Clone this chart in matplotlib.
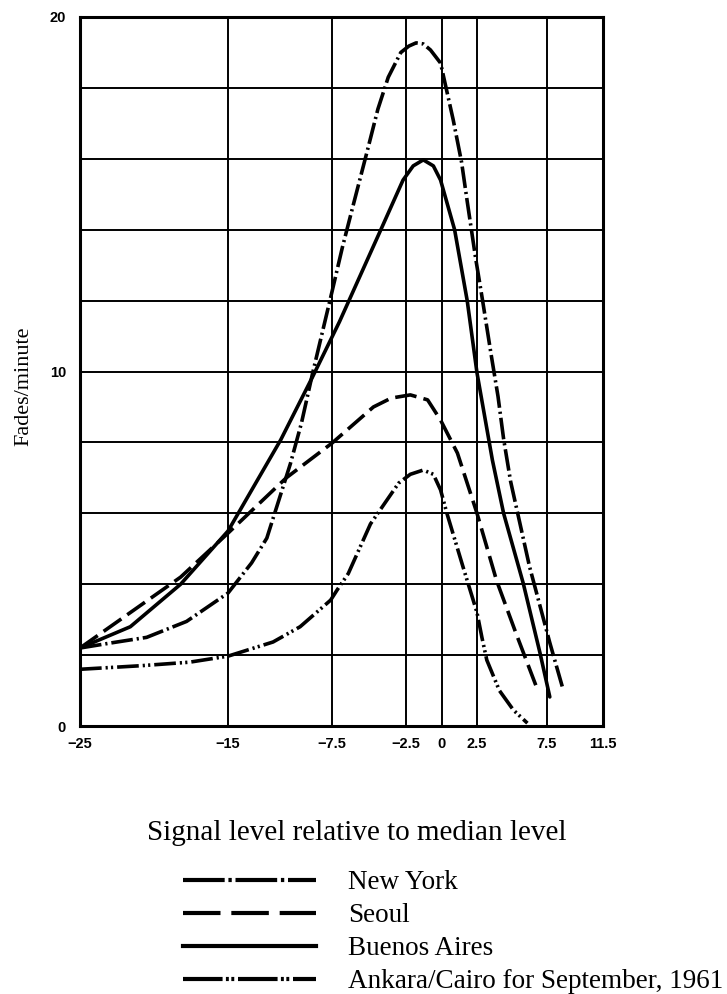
import numpy as np
import matplotlib
matplotlib.use("Agg")
import matplotlib.pyplot as plt
from matplotlib.lines import Line2D

# ---------------- data ----------------
ny_x = [-25, -22.8, -20.5, -17.8, -15, -13.3, -12.2, -10.5, -9.7, -8.9, -7.5, -6.8, -6.0,
        -5.1, -4.4, -3.7, -2.85, -2.3, -1.8, -1.3, -0.8, -0.1, 0.8, 1.4, 1.8, 2.4, 2.9, 3.5,
        4.0, 4.4, 4.9, 6.25, 7.7, 8.6]
ny_y = [2.2, 2.35, 2.5, 2.95, 3.75, 4.6, 5.3, 7.4, 8.55, 9.95, 12.25, 13.5, 14.8,
        16.25, 17.4, 18.3, 19.0, 19.18, 19.27, 19.24, 19.07, 18.7, 17.1, 15.9, 14.8, 13.2, 12.0,
        10.5, 9.3, 8.1, 6.9, 4.5, 2.35, 1.1]

seoul_x = [-25, -21.6, -18.2, -15, -10.8, -7.5, -4.7, -3.5, -2.2, -1.0, -0.1, 1.1, 2.5,
           3.9, 5.3, 6.7]
seoul_y = [2.2, 3.2, 4.2, 5.44, 7.0, 7.98, 9.0, 9.25, 9.34, 9.2, 8.63, 7.7, 6.0,
           4.1, 2.6, 1.15]

ba_x = [-25, -21.6, -18.2, -15, -11.2, -8.9, -7.0, -4.2, -2.7, -2.0, -1.3, -0.6, -0.1,
        0.9, 1.8, 2.5, 3.6, 4.4, 5.8, 7.0, 7.7]
ba_y = [2.2, 2.8, 4.0, 5.5, 8.07, 9.85, 11.4, 14.0, 15.4, 15.8, 15.97, 15.8, 15.4,
        14.0, 12.0, 9.96, 7.5, 6.0, 4.03, 2.06, 0.82]

ank_x = [-25, -20.9, -17.6, -15, -11.75, -9.8, -7.6, -7.15, -6.4, -4.9, -3.0, -2.2, -1.3,
         -0.6, -0.1, 0.35, 1.5, 2.5, 2.85, 3.2, 4.1, 5.1, 6.1]
ank_y = [1.6, 1.7, 1.8, 1.97, 2.37, 2.8, 3.55, 3.84, 4.3, 5.7, 6.85, 7.1, 7.22,
         7.1, 6.66, 6.0, 4.49, 3.2, 2.5, 1.86, 1.0, 0.45, 0.08]

series_labels = ["New York", "Seoul", "Buenos Aires", "Ankara/Cairo for September, 1961"]

x_ticks = [-25, -15, -7.5, -2.5, 0, 2.5, 7.5, 11.5]
x_tick_labels = ["\u221225", "\u221215", "\u22127.5", "\u22122.5", "0", "2.5", "7.5", "11.5"]
y_ticks = [0, 2, 4, 6, 8, 10, 12, 14, 16, 18, 20]
y_tick_labels = ["0", "", "", "", "", "10", "", "", "", "", "20"]

x_label = "Signal level relative to median level"
y_label = "Fades/minute"

# ---------------- layout / style ----------------
W, H = 727, 994
# hand-drawn grid: pixel position of each x grid line in the original drawing
grid_px = np.array([80, 228, 332, 406, 442, 477, 547, 603], dtype=float)
tick_vals = np.array(x_ticks, dtype=float)


def _fwd(x):
    x = np.asarray(x, dtype=float)
    y = np.interp(x, tick_vals, grid_px)
    s0 = (grid_px[1] - grid_px[0]) / (tick_vals[1] - tick_vals[0])
    s1 = (grid_px[-1] - grid_px[-2]) / (tick_vals[-1] - tick_vals[-2])
    y = np.where(x < tick_vals[0], grid_px[0] + (x - tick_vals[0]) * s0, y)
    y = np.where(x > tick_vals[-1], grid_px[-1] + (x - tick_vals[-1]) * s1, y)
    return y


def _inv(p):
    p = np.asarray(p, dtype=float)
    x = np.interp(p, grid_px, tick_vals)
    s0 = (tick_vals[1] - tick_vals[0]) / (grid_px[1] - grid_px[0])
    s1 = (tick_vals[-1] - tick_vals[-2]) / (grid_px[-1] - grid_px[-2])
    x = np.where(p < grid_px[0], tick_vals[0] + (p - grid_px[0]) * s0, x)
    x = np.where(p > grid_px[-1], tick_vals[-1] + (p - grid_px[-1]) * s1, x)
    return x


fig = plt.figure(figsize=(W / 100, H / 100), dpi=100)
ax = fig.add_axes([80 / W, 1 - 726 / H, (603 - 80) / W, (726 - 17) / H])
ax.set_xscale("function", functions=(_fwd, _inv))
ax.set_xlim(-25, 11.5)
ax.set_ylim(0, 20)

ax.set_xticks(x_ticks)
ax.set_xticklabels(x_tick_labels)
ax.set_yticks(y_ticks)
ax.set_yticklabels(y_tick_labels)
ax.minorticks_off()
tick_family = ["Liberation Sans Narrow", "Liberation Sans", "DejaVu Sans"]
for lab in ax.get_xticklabels() + ax.get_yticklabels():
    lab.set_fontfamily(tick_family)
    lab.set_fontweight("bold")
    lab.set_fontsize(10.5)
ax.tick_params(axis="both", length=0)
ax.tick_params(axis="x", pad=8)
ax.tick_params(axis="y", pad=10)

ax.grid(True, color="black", linewidth=1.4)
ax.set_axisbelow(True)
for sp in ax.spines.values():
    sp.set_linewidth(2.2)
    sp.set_color("black")

lw = 2.6
styles = [
    (0, (6.0, 1.1, 0.6, 1.1)),                 # New York: long dash - dot
    (0, (6.0, 2.0)),                           # Seoul: dashed
    "solid",                                   # Buenos Aires
    (0, (6.0, 1.1, 0.6, 0.9, 0.6, 1.1)),       # Ankara/Cairo: dash - dot - dot
]
xs = [ny_x, seoul_x, ba_x, ank_x]
ys = [ny_y, seoul_y, ba_y, ank_y]
for x, y, ls, lab in zip(xs, ys, styles, series_labels):
    ax.plot(x, y, color="black", linewidth=lw, linestyle=ls, label=lab,
            solid_joinstyle="round", solid_capstyle="round")

# legend keys drawn with the longer dashes used in the original key
leg_styles = [
    (0, (10.0, 0.9, 0.8, 0.9)),
    (0, (9.0, 2.6)),
    "solid",
    (0, (9.5, 0.8, 0.7, 0.6, 0.7, 0.9)),
]
handles = [Line2D([], [], color="black", linewidth=3.0, linestyle=s) for s in leg_styles]

serif = ["Liberation Serif", "DejaVu Serif"]
fig.text(357 / W, 1 - 833 / H, x_label, ha="center", va="center",
         family=serif, fontsize=21)
fig.text(24 / W, 1 - 386 / H, y_label, ha="center", va="center", rotation=90,
         family=serif, fontsize=16)

fig.legend(handles=handles, labels=series_labels, loc="upper left",
           bbox_to_anchor=(183 / W, 1 - 870 / H), frameon=False,
           prop=dict(family=serif, size=19.5), handlelength=4.9,
           handletextpad=1.2, labelspacing=0.3, borderpad=0,
           borderaxespad=0)

fig.savefig("out.png", dpi=100)
